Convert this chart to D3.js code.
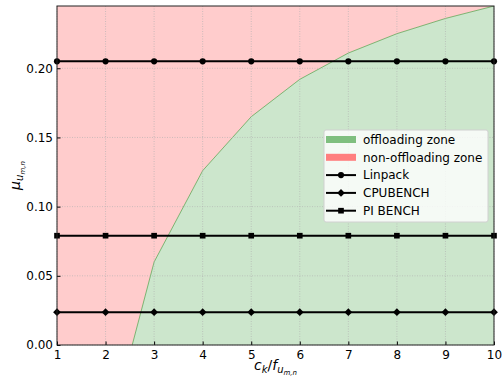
<!DOCTYPE html>
<html>
<head>
<meta charset="utf-8">
<script src="https://cdn.jsdelivr.net/npm/d3@7"></script>
<style>
body { margin: 0; background: #fff; }
text { font-family: "DejaVu Sans", sans-serif; }
</style>
</head>
<body>
<script>
// data
var ratios = [1, 2, 3, 4, 5, 6, 7, 8, 9, 10];
var boundary = [-0.471, -0.073, 0.060, 0.126, 0.165, 0.192, 0.211, 0.225, 0.236, 0.245];
var linpack = [0.205, 0.205, 0.205, 0.205, 0.205, 0.205, 0.205, 0.205, 0.205, 0.205];
var cpubench = [0.0237, 0.0237, 0.0237, 0.0237, 0.0237, 0.0237, 0.0237, 0.0237, 0.0237, 0.0237];
var pibench = [0.079, 0.079, 0.079, 0.079, 0.079, 0.079, 0.079, 0.079, 0.079, 0.079];
var yTicks = [0.00, 0.05, 0.10, 0.15, 0.20];

var width = 503, height = 379;
var m = {left: 57, right: 9, top: 6, bottom: 34};
var pw = width - m.left - m.right, ph = height - m.top - m.bottom;
var yMax = d3.max(boundary);

var svg = d3.select("body").append("svg")
	.attr("width", width)
	.attr("height", height);

var x = d3.scaleLinear().domain([1, 10]).range([0, pw]);
var y = d3.scaleLinear().domain([0, yMax]).range([ph, 0]);

svg.append("clipPath").attr("id", "clip")
	.append("rect").attr("width", pw).attr("height", ph);

var g = svg.append("g").attr("transform", "translate(" + m.left + "," + m.top + ")");
var plot = g.append("g").attr("clip-path", "url(#clip)");

var zone = ratios.map(function(d, i) { return {x: d, y: boundary[i]}; });

// non-offloading zone (above the boundary)
plot.append("path")
	.datum(zone)
	.attr("fill", "#ff0000").attr("fill-opacity", 0.2)
	.attr("d", d3.area().x(function(d) { return x(d.x); })
		.y0(function(d) { return y(yMax); })
		.y1(function(d) { return y(d.y); }));

// offloading zone (below the boundary)
plot.append("path")
	.datum(zone)
	.attr("fill", "#008000").attr("fill-opacity", 0.2)
	.attr("d", d3.area().x(function(d) { return x(d.x); })
		.y0(y(0))
		.y1(function(d) { return y(d.y); }));

plot.append("path")
	.datum(zone)
	.attr("fill", "none")
	.attr("stroke", "#008000").attr("stroke-opacity", 0.45)
	.attr("stroke-width", 1)
	.attr("d", d3.line().x(function(d) { return x(d.x); }).y(function(d) { return y(d.y); }));

// grid
var grid = g.append("g");
grid.selectAll(".gx").data(ratios).enter().append("line")
	.attr("x1", function(d) { return x(d); }).attr("x2", function(d) { return x(d); })
	.attr("y1", 0).attr("y2", ph);
grid.selectAll(".gy").data(yTicks).enter().append("line")
	.attr("y1", function(d) { return y(d); }).attr("y2", function(d) { return y(d); })
	.attr("x1", 0).attr("x2", pw);
grid.selectAll("line")
	.attr("stroke", "#b0b0b0").attr("stroke-width", 0.8)
	.attr("stroke-dasharray", "1,1.5").attr("stroke-opacity", 0.8);

// series (diamond = square turned 45 degrees, like matplotlib "D")
var series = [
	{name: "Linpack", values: linpack, marker: d3.symbolCircle, size: 30, rot: 0},
	{name: "CPUBENCH", values: cpubench, marker: d3.symbolSquare, size: 30, rot: 45},
	{name: "PI BENCH", values: pibench, marker: d3.symbolSquare, size: 32, rot: 0}
];

series.forEach(function(s) {
	var pts = ratios.map(function(d, i) { return {x: d, y: s.values[i]}; });
	g.append("path")
		.datum(pts)
		.attr("fill", "none").attr("stroke", "#000").attr("stroke-width", 2)
		.attr("d", d3.line().x(function(d) { return x(d.x); }).y(function(d) { return y(d.y); }));
	g.selectAll(null).data(pts).enter().append("path")
		.attr("transform", function(d) { return "translate(" + x(d.x) + "," + y(d.y) + ")rotate(" + s.rot + ")"; })
		.attr("d", d3.symbol().type(s.marker).size(s.size))
		.attr("fill", "#000");
});

// axes
var xAxis = g.append("g").attr("transform", "translate(0," + ph + ")")
	.call(d3.axisBottom(x).tickValues(ratios).tickFormat(d3.format("d")).tickSizeInner(-3.5).tickSizeOuter(0).tickPadding(5));
var yAxis = g.append("g")
	.call(d3.axisLeft(y).tickValues(yTicks).tickFormat(d3.format(".2f")).tickSizeInner(-3.5).tickSizeOuter(0).tickPadding(4));
[xAxis, yAxis].forEach(function(a) {
	a.select(".domain").remove();
	a.selectAll("text").attr("font-size", 12).attr("fill", "#000")
		.style("font-family", "DejaVu Sans");
	a.selectAll("line").attr("stroke", "#000");
});
xAxis.selectAll("text").attr("dy", "0.71em");

g.append("rect")
	.attr("width", pw).attr("height", ph)
	.attr("fill", "none").attr("stroke", "#222").attr("stroke-width", 1);

// axis labels
var xl = svg.append("text")
	.attr("x", m.left + pw / 2).attr("y", 370)
	.attr("text-anchor", "middle").attr("font-size", 14);
xl.append("tspan").attr("font-style", "italic").text("c");
xl.append("tspan").attr("font-style", "italic").attr("font-size", 10).attr("dy", 3).text("k");
xl.append("tspan").attr("dy", -3).text("/");
xl.append("tspan").attr("font-style", "italic").text("f");
xl.append("tspan").attr("font-style", "italic").attr("font-size", 10).attr("dy", 3).text("u");
xl.append("tspan").attr("font-style", "italic").attr("font-size", 7).attr("dy", 2).text("m,n");

var yl = svg.append("text")
	.attr("transform", "translate(20," + (m.top + ph / 2) + ")rotate(-90)")
	.attr("text-anchor", "middle").attr("font-size", 14);
yl.append("tspan").attr("font-style", "italic").text("μ");
yl.append("tspan").attr("font-style", "italic").attr("font-size", 10).attr("dy", 3).text("u");
yl.append("tspan").attr("font-style", "italic").attr("font-size", 7).attr("dy", 2).text("m,n");

// legend
var legend = svg.append("g").attr("transform", "translate(324,130)");
legend.append("rect")
	.attr("width", 164).attr("height", 92).attr("rx", 2)
	.attr("fill", "#fff").attr("fill-opacity", 0.8)
	.attr("stroke", "#d0d0d0").attr("stroke-width", 1);

var items = [
	{label: "offloading zone", patch: "#7fbf7f"},
	{label: "non-offloading zone", patch: "#ff7f7f"}
].concat(series.map(function(s) { return {label: s.name, marker: s.marker, size: s.size, rot: s.rot}; }));

var row = legend.selectAll(".item").data(items).enter().append("g")
	.attr("transform", function(d, i) { return "translate(0," + (9.5 + i * 17.8) + ")"; });

row.filter(function(d) { return d.patch; }).append("rect")
	.attr("x", 2).attr("y", -3.5).attr("width", 30).attr("height", 7)
	.attr("fill", function(d) { return d.patch; });
row.filter(function(d) { return d.marker; }).append("line")
	.attr("x1", 2).attr("x2", 32).attr("stroke", "#000").attr("stroke-width", 2);
row.filter(function(d) { return d.marker; }).append("path")
	.attr("transform", function(d) { return "translate(17,0)rotate(" + d.rot + ")"; })
	.attr("d", function(d) { return d3.symbol().type(d.marker).size(d.size)(); })
	.attr("fill", "#000");
row.append("text")
	.attr("x", 39).attr("dy", "0.35em")
	.attr("font-size", 12).attr("fill", "#000")
	.text(function(d) { return d.label; });
</script>
</body>
</html>
